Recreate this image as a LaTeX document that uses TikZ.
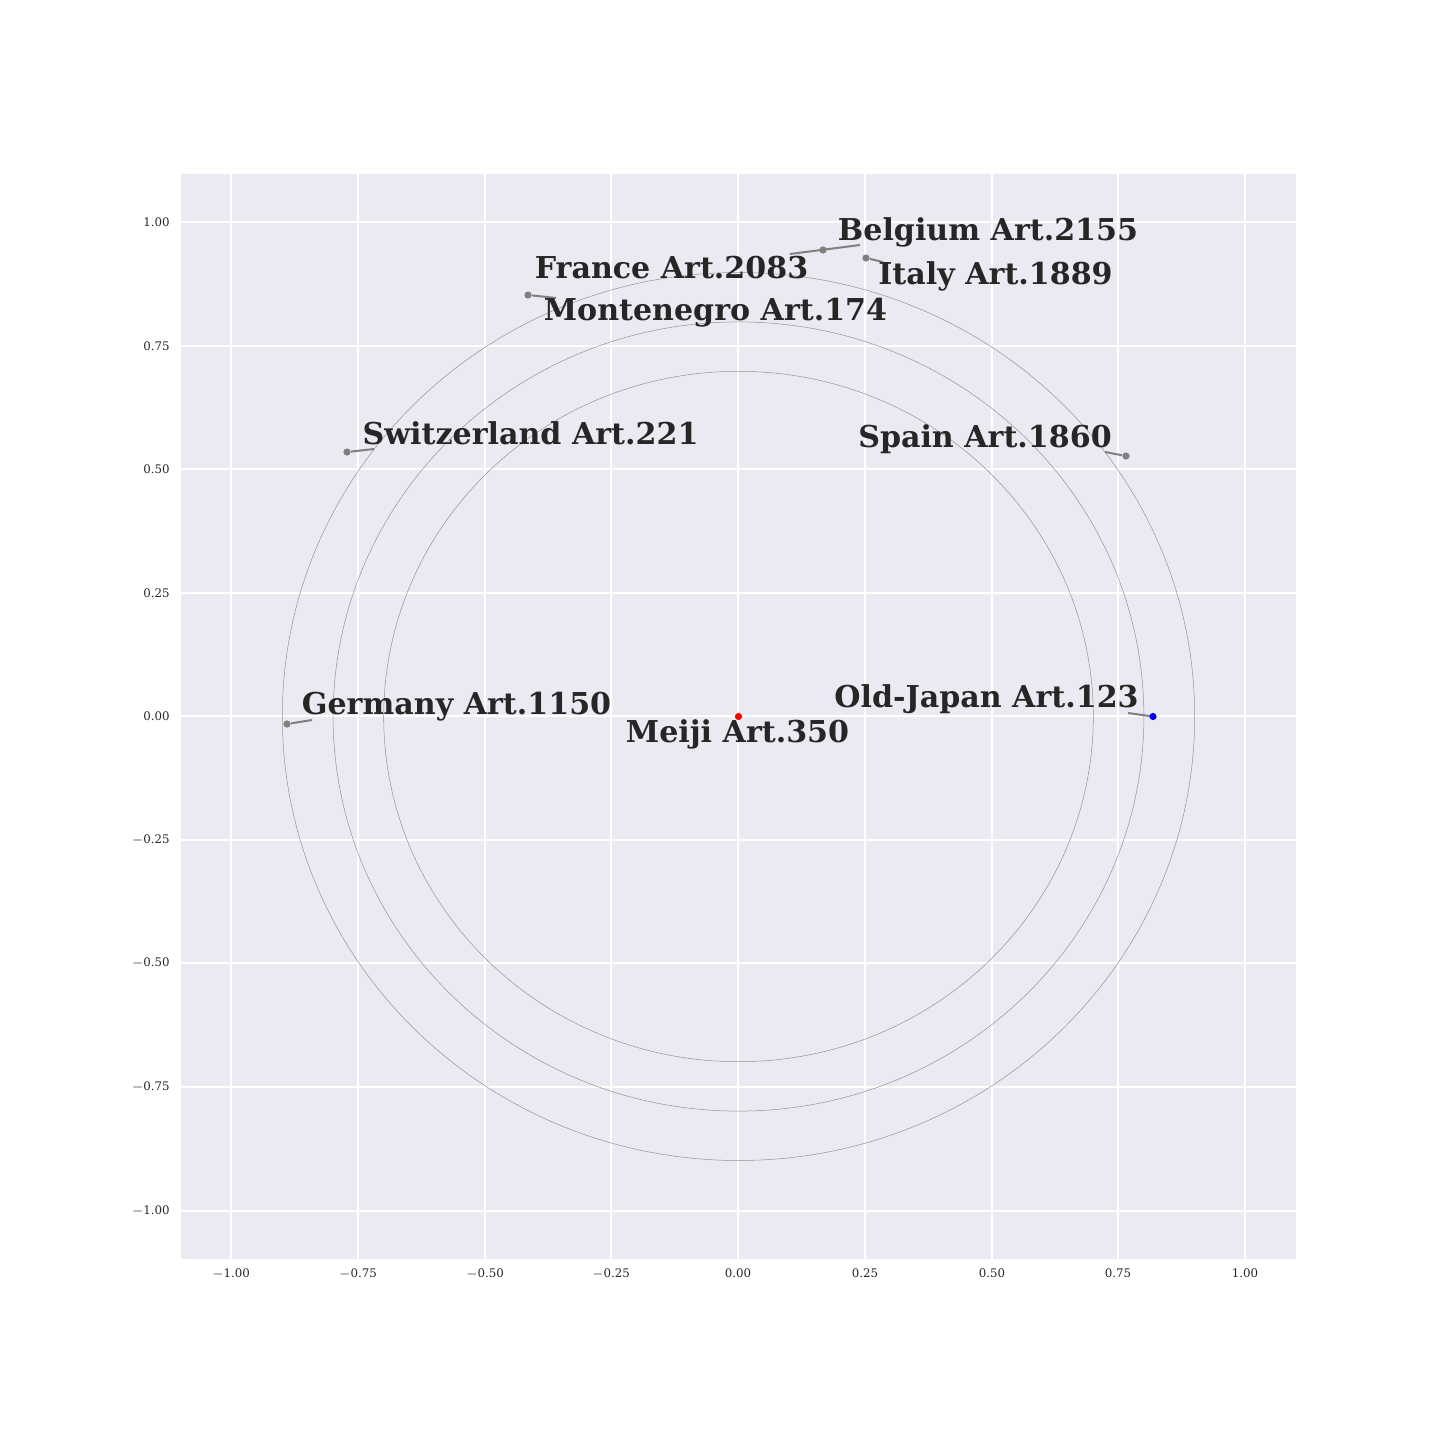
\documentclass[tikz,border=0pt]{standalone}
\usepackage{fontspec}
\setmainfont{DejaVu Serif}
\definecolor{bgc}{HTML}{EAEAF2}
\definecolor{txt}{HTML}{262626}
\definecolor{conn}{HTML}{808080}
\tikzset{
  lab/.style={font=\fontsize{15.05pt}{17pt}\selectfont\bfseries, text=txt, anchor=base, inner sep=0pt},
  tick/.style={font=\fontsize{5.9pt}{7pt}\selectfont, text=txt, inner sep=0pt},
  grid/.style={draw=white, line width=0.55pt},
  ring/.style={draw=gray!85, line width=0.25pt},
  leader/.style={draw=conn, line width=1pt},
  dot/.style={circle, fill=conn, inner sep=0pt, minimum size=3.6pt},
}
\begin{document}
\begin{tikzpicture}[x=0.5pt,y=-0.5pt]
\useasboundingbox (0,0) rectangle (1440,1440);
\fill[white] (0,0) rectangle (1440,1440);
\fill[bgc] (181,174) rectangle (1296,1259);
% grid
\foreach \xx/\lbl in {231/{$-$1.00},358/{$-$0.75},485/{$-$0.50},611/{$-$0.25},738/{0.00},865/{0.25},992/{0.50},1118/{0.75},1245/{1.00}}{
  \draw[grid] (\xx,174) -- (\xx,1259);
  \node[tick, anchor=north] at (\xx,1268) {\lbl};
}
\foreach \yy/\lbl in {222/{1.00},346/{0.75},469/{0.50},593/{0.25},716/{0.00},840/{$-$0.25},963/{$-$0.50},1087/{$-$0.75},1211/{$-$1.00}}{
  \draw[grid] (181,\yy) -- (1296,\yy);
  \node[tick, anchor=east] at (170,\yy) {\lbl};
}
% rings
\coordinate (o) at (738.5,716.5);
\draw[ring] (o) ellipse [x radius=177.4pt, y radius=172.6pt];
\draw[ring] (o) ellipse [x radius=202.7pt, y radius=197.3pt];
\draw[ring] (o) ellipse [x radius=228.1pt, y radius=222.0pt];
% leaders and points
\coordinate (bA) at (790,254); \coordinate (bB) at (860,245);
\draw[leader] (bA) -- (bB);
\node[dot] (pBel) at (823,250) {};
\coordinate (iB) at (883,262);
\node[dot] (pIta) at (866,258) {};
\draw[leader] (pIta) -- (iB);
\coordinate (fB) at (556,298);
\node[dot] (pFra) at (528,295) {};
\draw[leader] (pFra) -- (fB);
\coordinate (sB) at (374,449);
\node[dot] (pSwi) at (347,452) {};
\draw[leader] (pSwi) -- (sB);
\coordinate (spB) at (1105,452);
\node[dot] (pSpa) at (1126,456) {};
\draw[leader] (pSpa) -- (spB);
\coordinate (gB) at (312,720);
\node[dot] (pGer) at (287,724) {};
\draw[leader] (pGer) -- (gB);
\coordinate (jB) at (1128,713);
\draw[leader] (jB) -- (1153,716.5);
\node[dot, fill=blue] (pJap) at (1153,716.5) {};
\node[dot, fill=red] (pMei) at (738.5,716.5) {};
% labels
\node[lab] (lBel) at (988,240) {Belgium Art.2155};
\node[lab] (lIta) at (995.5,284) {Italy Art.1889};
\node[lab] (lFra) at (671.5,278) {France Art.2083};
\node[lab] (lMon) at (715.5,320) {Montenegro Art.174};
\node[lab] (lSwi) at (530.5,444) {Switzerland Art.221};
\node[lab] (lSpa) at (985,447) {Spain Art.1860};
\node[lab] (lGer) at (456.5,714) {Germany Art.1150};
\node[lab] (lJap) at (986.5,707) {Old-Japan Art.123};
\node[lab] (lMei) at (737.5,742) {Meiji Art.350};
\end{tikzpicture}
\end{document}
